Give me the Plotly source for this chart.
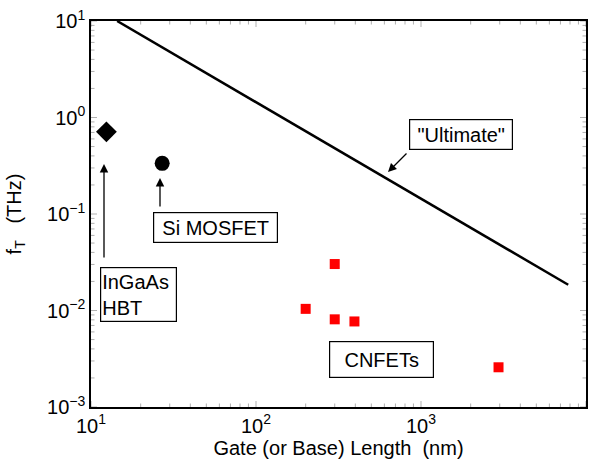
import plotly.graph_objects as go

# ---- data ----
ultimate_x = [14.4, 7800]
ultimate_y = [10.0, 0.0185]
hbt_x = [12.4]
hbt_y = [0.71]
mosfet_x = [27]
mosfet_y = [0.335]
cnfet_x = [200, 300, 300, 395, 2950]
cnfet_y = [0.0104, 0.0303, 0.0081, 0.0077, 0.00258]

xtick_vals = [10, 100, 1000, 10000]
xtick_text = ["10<sup>1</sup>", "10<sup>2</sup>", "10<sup>3</sup>", "10<sup>4</sup>"]
ytick_vals = [1e-3, 1e-2, 1e-1, 1, 10]
ytick_text = ["10<sup>−3</sup>", "10<sup>−2</sup>", "10<sup>−1</sup>", "10<sup>0</sup>", "10<sup>1</sup>"]

x_minor = [m * 10 ** e for e in (1, 2, 3) for m in range(2, 10)]
y_minor = [m * 10.0 ** e for e in (-3, -2, -1, 0) for m in range(2, 10)]

FONT = "Liberation Sans, Arial, Helvetica, sans-serif"

fig = go.Figure()
fig.add_trace(go.Scatter(x=ultimate_x, y=ultimate_y, mode="lines",
                         line=dict(color="black", width=2.5), showlegend=False))
fig.add_trace(go.Scatter(x=hbt_x, y=hbt_y, mode="markers",
                         marker=dict(symbol="diamond", size=16, color="black"), showlegend=False))
fig.add_trace(go.Scatter(x=mosfet_x, y=mosfet_y, mode="markers",
                         marker=dict(symbol="circle", size=15, color="black"), showlegend=False))
fig.add_trace(go.Scatter(x=cnfet_x, y=cnfet_y, mode="markers",
                         marker=dict(symbol="square", size=10, color="#ff0000"), showlegend=False))

L, T = 91, 21
PW, PH = 495, 386
W, H = 600, 473
R = W - L - PW
B = H - T - PH

def px(xp):
    return (xp - L) / PW

def py(yp):
    return (T + PH - yp) / PH

def box(text, cx, cy, w, h, align="center"):
    return dict(text=text, x=px(cx), y=py(cy), xref="x domain", yref="y domain",
                xanchor="center", yanchor="middle",
                showarrow=False, width=w, height=h, align=align, valign="middle",
                bordercolor="black", borderwidth=1.2, borderpad=1, bgcolor="white",
                font=dict(family=FONT, size=20, color="black"))

def arrow(tx, ty, hx, hy):
    return dict(text="", x=px(hx), y=py(hy), ax=px(tx), ay=py(ty),
                xref="x domain", yref="y domain", axref="x domain", ayref="y domain",
                showarrow=True, arrowhead=2, arrowsize=1.3, arrowwidth=1.3,
                arrowcolor="black", standoff=0, startstandoff=0)

annotations = [
    box("\"Ultimate\"", 461, 134, 100, 27),
    box("Si MOSFET", 215.5, 227.5, 121, 27),
    box("InGaAs<br>HBT", 138.5, 294.5, 73, 51, align="left"),
    box("CNFETs", 381.5, 359.5, 101, 33),
    arrow(408, 152, 388, 172),
    arrow(160, 208, 160, 178),
    arrow(104, 259, 104, 164),
]

# inward tick marks on all four sides, built from the tick value lists
MAJ, MIN = 6, 3.5
shapes = []
for vals, ln in ((xtick_vals, MAJ), (x_minor, MIN)):
    for v in vals:
        d = ln / PH
        shapes.append(dict(type="line", xref="x", yref="y domain", x0=v, x1=v, y0=0, y1=d,
                           line=dict(color="black", width=1), layer="above"))
        shapes.append(dict(type="line", xref="x", yref="y domain", x0=v, x1=v, y0=1, y1=1 - d,
                           line=dict(color="black", width=1), layer="above"))
for vals, ln in ((ytick_vals, MAJ), (y_minor, MIN)):
    for v in vals:
        d = ln / PW
        shapes.append(dict(type="line", xref="x domain", yref="y", x0=0, x1=d, y0=v, y1=v,
                           line=dict(color="black", width=1), layer="above"))
        shapes.append(dict(type="line", xref="x domain", yref="y", x0=1, x1=1 - d, y0=v, y1=v,
                           line=dict(color="black", width=1), layer="above"))

axis_common = dict(type="log", showgrid=False, zeroline=False, showline=True,
                   linecolor="black", linewidth=1.5, mirror=True,
                   ticks="", automargin=False,
                   tickfont=dict(family=FONT, size=20, color="black"))

fig.update_layout(
    template="simple_white",
    width=W, height=H,
    margin=dict(l=L, r=R, t=T, b=B),
    plot_bgcolor="white", paper_bgcolor="white",
    font=dict(family=FONT, color="black"),
    xaxis=dict(axis_common, range=[1, 4], tickmode="array", tickvals=xtick_vals, ticktext=xtick_text,
               title=dict(text="Gate (or Base) Length  (nm)", font=dict(family=FONT, size=20), standoff=4)),
    yaxis=dict(axis_common, range=[-3, 1], tickmode="array", tickvals=ytick_vals, ticktext=ytick_text,
               title=dict(text="f<sub>T</sub>   (THz)", font=dict(family=FONT, size=20), standoff=20)),
    annotations=annotations,
    shapes=shapes,
)

fig.write_html("out.html", config={"displayModeBar": False},
               post_script="document.body.style.margin='0';")
